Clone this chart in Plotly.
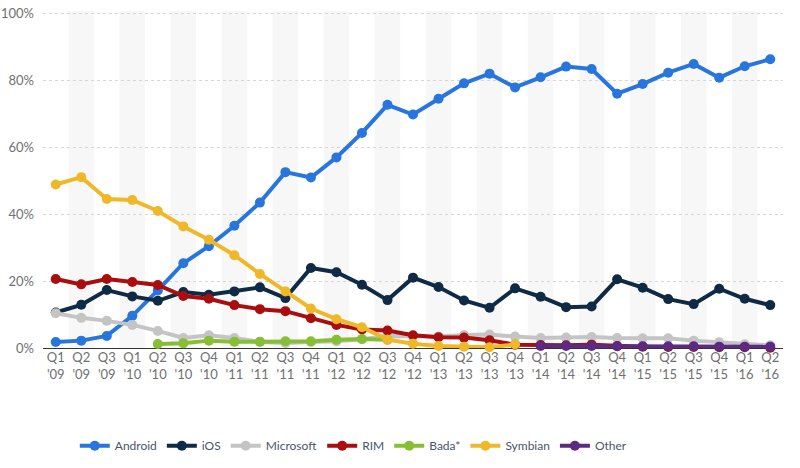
import plotly.graph_objects as go

quarters = ["Q1 '09", "Q2 '09", "Q3 '09", "Q1 '10", "Q2 '10", "Q3 '10", "Q4 '10", "Q1 '11",
            "Q2 '11", "Q3 '11", "Q4 '11", "Q1 '12", "Q2 '12", "Q3 '12", "Q4 '12", "Q1 '13",
            "Q2 '13", "Q3 '13", "Q4 '13", "Q1 '14", "Q2 '14", "Q3 '14", "Q4 '14", "Q1 '15",
            "Q2 '15", "Q3 '15", "Q4 '15", "Q1 '16", "Q2 '16"]
tick_labels = [q.replace(" ", "<br>") for q in quarters]

android = [1.8, 2.2, 3.6, 9.6, 17.2, 25.3, 30.4, 36.5, 43.4, 52.5, 50.9, 56.9, 64.2, 72.6, 69.7,
           74.4, 79.0, 81.9, 77.8, 80.8, 84.0, 83.3, 75.9, 78.8, 82.2, 84.8, 80.7, 84.1, 86.2]
ios = [10.6, 12.9, 17.3, 15.4, 14.1, 16.7, 15.9, 16.9, 18.1, 14.9, 23.9, 22.6, 18.9, 14.3, 21.0,
       18.2, 14.2, 12.0, 17.8, 15.3, 12.2, 12.4, 20.5, 18.0, 14.6, 13.1, 17.7, 14.7, 12.8]
microsoft = [10.4, 9.0, 8.1, 6.9, 5.1, 3.0, 3.8, 3.0, 1.8, 1.5, 1.8, 2.0, 2.6, 3.6, 3.5,
             3.4, 3.9, 4.0, 3.4, 3.0, 3.1, 3.3, 3.0, 2.9, 2.9, 2.2, 1.7, 1.1, 0.8]
rim = [20.6, 19.0, 20.6, 19.7, 18.8, 15.5, 14.7, 12.8, 11.6, 11.0, 8.9, 6.9, 5.5, 5.2, 3.8,
       3.2, 3.1, 2.3, 1.0, 0.9, 0.8, 1.0, 0.6, 0.4, 0.3, 0.3, 0.2, 0.2, 0.1]
bada = [None, None, None, None, 1.2, 1.4, 2.2, 1.9, 1.9, 2.0, 2.0, 2.5, 2.7, 2.5, None,
        None, None, None, None, None, None, None, None, None, None, None, None, None, None]
symbian = [48.8, 51.0, 44.5, 44.2, 40.9, 36.3, 32.3, 27.7, 22.1, 16.9, 11.8, 8.6, 6.2, 2.5, 1.3,
           0.6, 0.4, 0.2, 1.1, None, None, None, None, None, None, None, None, None, None]
other = [None, None, None, None, None, None, None, None, None, None, None, None, None, None, None,
         None, None, None, None, 0.6, 0.6, 0.6, 0.5, 0.5, 0.5, 0.5, 0.4, 0.4, 0.4]

series = [
    ("Android", android, "#2876dd"),
    ("iOS", ios, "#0f2a44"),
    ("Microsoft", microsoft, "#c4c4c4"),
    ("RIM", rim, "#a90d0d"),
    ("Bada*", bada, "#86bf35"),
    ("Symbian", symbian, "#efb829"),
    ("Other", other, "#5c2a82"),
]

x_idx = list(range(len(quarters)))

fig = go.Figure()
for name, vals, color in series:
    fig.add_trace(go.Scatter(
        x=x_idx, y=vals, name=name, mode="lines+markers",
        line=dict(color=color, width=4),
        marker=dict(color=color, size=10),
        cliponaxis=False,
    ))

# alternating column bands
for i in x_idx:
    if i % 2 == 1:
        fig.add_shape(type="rect", xref="x", yref="paper", x0=i - 0.5, x1=i + 0.5, y0=0, y1=1,
                      fillcolor="#f7f7f7", line=dict(width=0), layer="below")

fig.update_layout(
    width=800, height=468,
    margin=dict(l=43, r=17, t=11, b=120, autoexpand=False),
    paper_bgcolor="white", plot_bgcolor="white",
    font=dict(family="Lato, 'Open Sans', sans-serif", size=13, color="#666666"),
    showlegend=True,
    legend=dict(orientation="h", x=0.42, xanchor="center", y=-0.29, yanchor="middle",
                font=dict(size=12, color="#4a5668"), itemwidth=30, traceorder="normal"),
    xaxis=dict(range=[-0.5, len(quarters) - 0.5], tickmode="array", tickvals=x_idx,
               ticktext=tick_labels, showgrid=False, zeroline=False, showline=False,
               ticks="", tickfont=dict(size=13, color="#707070"), automargin=False,
               ticklabeloverflow="allow"),
    yaxis=dict(range=[0, 100.6], tickvals=[0, 20, 40, 60, 80, 100],
               ticktext=["0%", "20%", "40%", "60%", "80%", "100%"],
               showgrid=True, gridcolor="#d6d6d6", griddash="dot", gridwidth=1,
               zeroline=True, zerolinecolor="#333333", zerolinewidth=1,
               ticks="", tickfont=dict(size=13, color="#707070"), ticklabelstandoff=8,
               automargin=False, ticklabeloverflow="allow"),
)

fig.write_html("out.html", config={"displayModeBar": False},
               post_script="document.body.style.margin='0';")
